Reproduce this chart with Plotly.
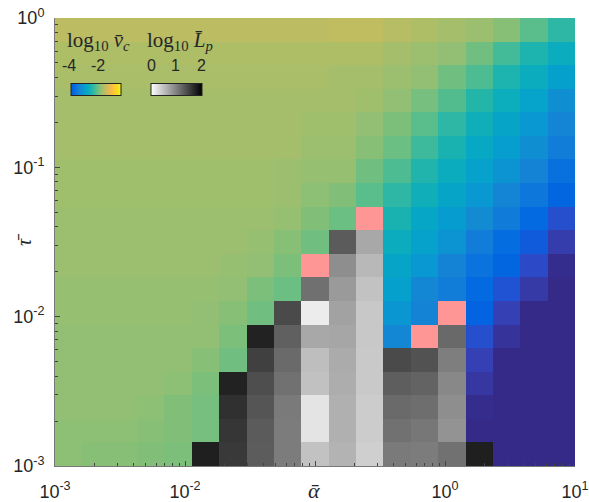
import numpy as np
import plotly.graph_objects as go

# ---------------- data ----------------
ALPHA_EDGES = np.logspace(-3, 1, 20)   # 19 columns of alpha-bar
TAU_EDGES = np.logspace(-3, 0, 20)     # 19 rows of tau-bar

N = None
# log10 of v_c, rows listed from top (tau = 1) to bottom (tau = 1e-3)
LOG_VC = [
    [-1.67,-1.67,-1.67,-1.67,-1.67,-1.67,-1.67,-1.67,-1.67,-1.67,-1.64,-1.64,-1.71,-1.77,-1.83,-1.90,-2.02,-2.28,-2.53],
    [-1.77,-1.77,-1.77,-1.77,-1.77,-1.77,-1.77,-1.77,-1.77,-1.77,-1.77,-1.77,-1.83,-1.90,-1.96,-2.15,-2.40,-2.66,-2.85],
    [-1.80,-1.80,-1.80,-1.80,-1.80,-1.80,-1.80,-1.80,-1.80,-1.80,-1.83,-1.83,-1.90,-1.96,-2.15,-2.34,-2.66,-2.85,-3.10],
    [-1.83,-1.83,-1.83,-1.83,-1.83,-1.83,-1.83,-1.83,-1.83,-1.83,-1.83,-1.87,-1.96,-2.12,-2.31,-2.60,-2.82,-3.04,-3.36],
    [-1.83,-1.83,-1.83,-1.83,-1.83,-1.83,-1.83,-1.83,-1.83,-1.87,-1.87,-1.96,-2.09,-2.28,-2.53,-2.79,-3.01,-3.23,-3.48],
    [-1.83,-1.83,-1.83,-1.83,-1.83,-1.83,-1.83,-1.83,-1.83,-1.90,-1.90,-2.02,-2.18,-2.44,-2.69,-2.94,-3.13,-3.36,-3.61],
    [-1.87,-1.87,-1.87,-1.87,-1.87,-1.87,-1.87,-1.87,-1.90,-1.93,-1.93,-2.15,-2.34,-2.63,-2.85,-3.07,-3.29,-3.52,-3.80],
    [-1.87,-1.87,-1.87,-1.87,-1.87,-1.87,-1.87,-1.87,-1.90,-1.99,-2.06,-2.28,-2.53,-2.79,-3.01,-3.23,-3.48,-3.71,-3.96],
    [-1.90,-1.90,-1.90,-1.90,-1.90,-1.90,-1.90,-1.90,-1.93,-2.06,-2.18,N,-2.69,-2.98,-3.17,-3.39,-3.64,-3.90,-4.15],
    [-1.90,-1.90,-1.90,-1.90,-1.90,-1.90,-1.90,-1.93,-2.02,-2.15,N,N,-2.85,-3.07,-3.29,-3.61,-3.87,-4.06,-4.31],
    [-1.90,-1.90,-1.90,-1.90,-1.90,-1.90,-1.93,-1.96,-2.09,N,N,N,-3.01,-3.23,-3.52,-3.77,-3.96,-4.18,-4.47],
    [-1.93,-1.93,-1.93,-1.93,-1.93,-1.93,-1.96,-2.09,-2.18,N,N,N,-3.10,-3.45,-3.61,-3.90,-4.12,-4.34,-4.50],
    [-1.93,-1.93,-1.93,-1.93,-1.93,-1.96,-2.02,-2.15,N,N,N,N,-3.26,-3.52,N,-3.99,-4.28,-4.50,-4.50],
    [-1.96,-1.96,-1.96,-1.96,-1.96,-1.96,-2.09,N,N,N,N,N,-3.45,N,N,-4.15,-4.40,-4.50,-4.50],
    [-1.96,-1.96,-1.96,-1.96,-1.96,-2.02,-2.15,N,N,N,N,N,N,N,N,-4.28,-4.50,-4.50,-4.50],
    [-1.96,-1.96,-1.96,-1.96,-1.99,-2.09,N,N,N,N,N,N,N,N,N,-4.37,-4.50,-4.50,-4.50],
    [-1.96,-1.96,-1.96,-1.99,-2.06,-2.12,N,N,N,N,N,N,N,N,N,-4.47,-4.50,-4.50,-4.50],
    [-1.99,-1.99,-1.99,-2.02,-2.06,-2.12,N,N,N,N,N,N,N,N,N,-4.50,-4.50,-4.50,-4.50],
    [-1.99,-2.02,-2.02,-2.06,-2.09,N,N,N,N,N,N,N,N,N,N,N,-4.50,-4.50,-4.50],
]

# log10 of L_p (grey cells), same row order
LOG_LP = [
    [N]*19, [N]*19, [N]*19, [N]*19, [N]*19, [N]*19, [N]*19, [N]*19, [N]*19,
    [N,N,N,N,N,N,N,N,N,N,1.29,0.68,N,N,N,N,N,N,N],
    [N,N,N,N,N,N,N,N,N,N,0.89,0.56,N,N,N,N,N,N,N],
    [N,N,N,N,N,N,N,N,N,1.12,0.79,0.48,N,N,N,N,N,N,N],
    [N,N,N,N,N,N,N,N,1.42,0.15,0.73,0.43,N,N,N,N,N,N,N],
    [N,N,N,N,N,N,N,1.73,1.25,0.68,0.70,0.43,N,N,1.18,N,N,N,N],
    [N,N,N,N,N,N,N,1.50,1.17,0.51,0.66,0.42,1.42,1.36,1.01,N,N,N,N],
    [N,N,N,N,N,N,1.73,1.39,1.11,0.49,0.64,0.42,1.26,1.22,0.93,N,N,N,N],
    [N,N,N,N,N,N,1.62,1.33,1.04,0.21,0.62,0.40,1.17,1.14,0.89,N,N,N,N],
    [N,N,N,N,N,N,1.58,1.29,1.03,0.21,0.62,0.40,1.11,1.07,0.85,N,N,N,N],
    [N,N,N,N,N,1.76,1.55,1.28,1.03,0.48,0.60,0.38,1.04,1.03,1.11,1.76,N,N,N],
]

# (row, column) of the highlighted (pink) cells
SPECIAL_CELLS = [(8, 11), (10, 9), (12, 14), (13, 13)]

X_TICKS = [1e-3, 1e-2, 1e-1, 1, 10]
X_TICKTEXT = ['10<sup>-3</sup>', '10<sup>-2</sup>', '', '10<sup>0</sup>', '10<sup>1</sup>']
Y_TICKS = [1e-3, 1e-2, 1e-1, 1]
Y_TICKTEXT = ['10<sup>-3</sup>', '10<sup>-2</sup>', '10<sup>-1</sup>', '10<sup>0</sup>']

# ---------------- styles ----------------
PARULA = [
    (0.2081,0.1663,0.5292),(0.2116,0.1898,0.5777),(0.2123,0.2138,0.6270),(0.2081,0.2386,0.6771),
    (0.1959,0.2645,0.7279),(0.1707,0.2919,0.7792),(0.1253,0.3242,0.8303),(0.0591,0.3598,0.8683),
    (0.0117,0.3875,0.8820),(0.0060,0.4086,0.8828),(0.0165,0.4266,0.8786),(0.0329,0.4430,0.8720),
    (0.0498,0.4586,0.8641),(0.0629,0.4737,0.8554),(0.0723,0.4887,0.8467),(0.0779,0.5040,0.8384),
    (0.0793,0.5200,0.8312),(0.0749,0.5375,0.8263),(0.0641,0.5570,0.8240),(0.0488,0.5772,0.8228),
    (0.0343,0.5966,0.8199),(0.0265,0.6137,0.8135),(0.0239,0.6287,0.8038),(0.0231,0.6418,0.7913),
    (0.0228,0.6535,0.7768),(0.0267,0.6642,0.7607),(0.0384,0.6743,0.7436),(0.0590,0.6838,0.7254),
    (0.0843,0.6928,0.7062),(0.1133,0.7015,0.6859),(0.1453,0.7098,0.6646),(0.1801,0.7177,0.6424),
    (0.2178,0.7250,0.6193),(0.2586,0.7317,0.5954),(0.3022,0.7376,0.5712),(0.3482,0.7424,0.5473),
    (0.3953,0.7459,0.5244),(0.4420,0.7481,0.5033),(0.4871,0.7491,0.4840),(0.5300,0.7491,0.4661),
    (0.5709,0.7485,0.4494),(0.6099,0.7473,0.4337),(0.6473,0.7456,0.4188),(0.6834,0.7435,0.4044),
    (0.7184,0.7411,0.3905),(0.7525,0.7384,0.3768),(0.7858,0.7356,0.3633),(0.8185,0.7327,0.3498),
    (0.8507,0.7299,0.3360),(0.8824,0.7274,0.3217),(0.9139,0.7258,0.3063),(0.9450,0.7261,0.2886),
    (0.9739,0.7314,0.2666),(0.9938,0.7455,0.2403),(0.9990,0.7653,0.2164),(0.9955,0.7861,0.1967),
    (0.9880,0.8066,0.1794),(0.9789,0.8271,0.1633),(0.9697,0.8481,0.1475),(0.9626,0.8705,0.1309),
    (0.9589,0.8949,0.1132),(0.9598,0.9218,0.0948),(0.9661,0.9514,0.0755),(0.9763,0.9831,0.0538),
]


def rgb(c):
    return 'rgb(%d,%d,%d)' % tuple(round(v * 255) for v in c)


PARULA_SCALE = [[i / 63, rgb(c)] for i, c in enumerate(PARULA)]
SUB = PARULA[6:]
PARULA_LEGEND_SCALE = [[i / (len(SUB) - 1), rgb(c)] for i, c in enumerate(SUB)]
GRAY_SCALE = [[0, 'rgb(255,255,255)'], [1, 'rgb(0,0,0)']]
PINK = '#FF9696'

VC_MIN, VC_MAX = -4.5, -0.5

# geometry of the plot area (pixels)
W, H = 589, 502
ML, MR, MT, MB = 55, 14, 18, 36
PW, PH = W - ML - MR, H - MT - MB


def px(x):
    return (x - ML) / PW


def py(y):
    return (H - MB - y) / PH


special = [[N] * 19 for _ in range(19)]
for r, c in SPECIAL_CELLS:
    special[r][c] = 1

fig = go.Figure()
fig.add_trace(go.Heatmap(
    x=ALPHA_EDGES, y=TAU_EDGES, z=LOG_VC[::-1],
    colorscale=PARULA_SCALE, zmin=VC_MIN, zmax=VC_MAX, showscale=False,
    hoverinfo='skip'))
fig.add_trace(go.Heatmap(
    x=ALPHA_EDGES, y=TAU_EDGES, z=LOG_LP[::-1],
    colorscale=GRAY_SCALE, zmin=0, zmax=2, showscale=True,
    colorbar=dict(orientation='h', x=px(151), xanchor='left', y=py(90), yanchor='middle',
                  len=51, lenmode='pixels', thickness=12, thicknessmode='pixels',
                  xpad=0, ypad=0, outlinewidth=1, outlinecolor='#222',
                  showticklabels=False, ticks=''),
    hoverinfo='skip'))
fig.add_trace(go.Heatmap(
    x=ALPHA_EDGES, y=TAU_EDGES, z=special[::-1],
    colorscale=[[0, PINK], [1, PINK]], zmin=0, zmax=1, showscale=False,
    hoverinfo='skip'))
# colour key for v_c
fig.add_trace(go.Scatter(
    x=[None], y=[None], mode='markers', hoverinfo='skip', showlegend=False,
    marker=dict(color=[0], cmin=0, cmax=1, colorscale=PARULA_LEGEND_SCALE, showscale=True,
                colorbar=dict(orientation='h', x=px(71), xanchor='left', y=py(90), yanchor='middle',
                              len=50, lenmode='pixels', thickness=12, thicknessmode='pixels',
                              xpad=0, ypad=0, outlinewidth=1, outlinecolor='#222',
                              showticklabels=False, ticks=''))))

tickfont = dict(family='Liberation Sans, Arial, sans-serif', size=18, color='#262626')
MINOR = [k * 10.0 ** e for e in range(-3, 1) for k in range(2, 10)]

fig.update_xaxes(type='log', range=[-3, 1], tickmode='array', tickvals=X_TICKS, ticktext=X_TICKTEXT,
                 ticks='inside', ticklen=5, tickcolor='#444', showline=True, linecolor='#777',
                 linewidth=1, showgrid=False, zeroline=False, tickfont=tickfont, automargin=False,
                 ticklabelstandoff=9,
                 minor=dict(ticks='inside', ticklen=3, tickcolor='#444', tickmode='array',
                            tickvals=MINOR, showgrid=False))
fig.update_yaxes(type='log', range=[-3, 0], tickmode='array', tickvals=Y_TICKS, ticktext=Y_TICKTEXT,
                 ticks='inside', ticklen=5, tickcolor='#444', showline=True, linecolor='#777',
                 linewidth=1, showgrid=False, zeroline=False, tickfont=tickfont, automargin=False,
                 ticklabelstandoff=6,
                 minor=dict(ticks='inside', ticklen=3, tickcolor='#444', tickmode='array',
                            tickvals=MINOR, showgrid=False))

serif = dict(family='Liberation Serif, DejaVu Serif, serif', size=21, color='#262626')
sans = dict(family='Liberation Sans, Arial, sans-serif', size=16, color='#262626')
ann = [
    dict(text='log<sub>10</sub> <i>v\u0304<sub>c</sub></i>', x=px(65), y=py(41), xanchor='left',
         yanchor='middle', font=serif),
    dict(text='log<sub>10</sub> <i>L\u0304<sub>p</sub></i>', x=px(145), y=py(41), xanchor='left',
         yanchor='middle', font=serif),
    dict(text='-4', x=px(69), y=py(65), xanchor='center', yanchor='middle', font=sans),
    dict(text='-2', x=px(97.5), y=py(65), xanchor='center', yanchor='middle', font=sans),
    dict(text='0', x=px(151.5), y=py(65), xanchor='center', yanchor='middle', font=sans),
    dict(text='1', x=px(175), y=py(65), xanchor='center', yanchor='middle', font=sans),
    dict(text='2', x=px(201), y=py(65), xanchor='center', yanchor='middle', font=sans),
    dict(text='<i>\u1fb1</i>', x=px(314), y=py(490), xanchor='center', yanchor='middle',
         font=dict(family='Liberation Serif, DejaVu Serif, serif', size=22, color='#262626')),
    dict(text='<i>\u03c4\u0304</i>', x=px(24), y=py(240), xanchor='center', yanchor='middle',
         textangle=-90,
         font=dict(family='Liberation Serif, DejaVu Serif, serif', size=20, color='#262626')),
]
for a in ann:
    a.update(xref='paper', yref='paper', showarrow=False)

fig.update_layout(width=W, height=H, margin=dict(l=ML, r=MR, t=MT, b=MB, pad=0, autoexpand=False),
                  paper_bgcolor='white', plot_bgcolor='white', showlegend=False,
                  annotations=ann)

fig.write_html('out.html')
